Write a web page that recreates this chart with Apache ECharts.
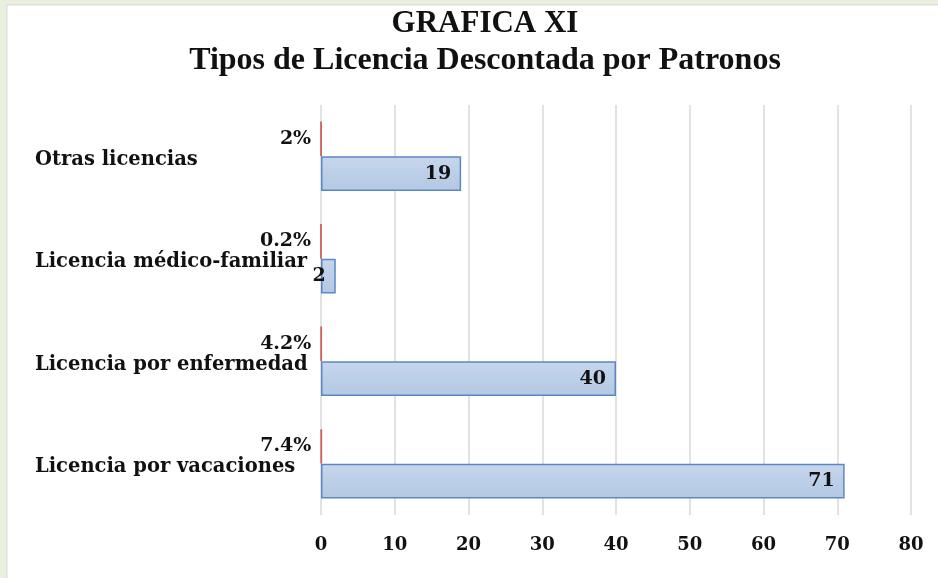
<!DOCTYPE html>
<html>
<head>
<meta charset="utf-8">
<script src="https://cdn.jsdelivr.net/npm/echarts@6/dist/echarts.min.js"></script>
<style>
    html, body {
        margin: 0;
        padding: 0;
        background: #ffffff;
    }

    #chart {
        width: 938px;
        height: 578px;
    }
</style>
</head>
<body>
<div id="chart"></div>
<script>
// categorias de abajo hacia arriba
const categories = ['Licencia por vacaciones', 'Licencia por enfermedad', 'Licencia médico-familiar', 'Otras licencias']
// numero de licencias
const counts = [71, 40, 2, 19]
// porcentaje (como fraccion), casi invisible en la escala
const shares = [0.074, 0.042, 0.002, 0.02]
// marcas del eje x
const xTicks = { min: 0, max: 80, interval: 10 }

const serif = '"DejaVu Serif", "Liberation Serif", serif'

const myChart = echarts.init(document.getElementById('chart'))
myChart.setOption({
    animation: false,
    backgroundColor: '#ffffff',
    // marco verde de la pagina
    graphic: [
        { type: 'rect', shape: { x: 0, y: 0, width: 938, height: 4 }, style: { fill: '#e9f0dd' }, silent: true },
        { type: 'rect', shape: { x: 0, y: 0, width: 6, height: 578 }, style: { fill: '#e9f0dd' }, silent: true },
        { type: 'rect', shape: { x: 6, y: 4, width: 932, height: 1.5 }, style: { fill: '#dedede' }, silent: true },
        { type: 'rect', shape: { x: 6, y: 4, width: 1.5, height: 574 }, style: { fill: '#dedede' }, silent: true }
    ],
    title: [
        {
            text: 'GRAFICA XI',
            left: 480,
            top: 3,
            textAlign: 'center',
            textStyle: { fontFamily: '"Liberation Serif", serif', fontWeight: 'bold', fontSize: 31, color: '#111' }
        },
        {
            text: 'Tipos de Licencia Descontada por Patronos',
            left: 480,
            top: 40,
            textAlign: 'center',
            textStyle: { fontFamily: '"Liberation Serif", serif', fontWeight: 'bold', fontSize: 32, color: '#111' }
        }
    ],
    grid: {
        left: 321,
        right: 27,
        top: 105,
        bottom: 63,
        containLabel: false
    },
    xAxis: {
        type: 'value',
        min: xTicks.min,
        max: xTicks.max,
        interval: xTicks.interval,
        axisLine: { show: false },
        axisTick: { show: false },
        splitLine: { lineStyle: { color: '#d9d9d9', width: 1.5 } },
        axisLabel: {
            margin: 21,
            fontFamily: serif,
            fontWeight: 'bold',
            fontSize: 18,
            color: '#111'
        }
    },
    yAxis: {
        type: 'category',
        data: categories,
        axisLine: { show: false },
        axisTick: { show: false },
        axisLabel: {
            align: 'left',
            margin: 286,
            formatter: v => '{c|' + v + '}',
            rich: {
                c: {
                    padding: [7, 0, 0, 0],
                    fontFamily: serif,
                    fontWeight: 'bold',
                    fontSize: 19.5,
                    color: '#111'
                }
            }
        }
    },
    series: [
        {
            name: 'Porcentaje',
            type: 'bar',
            data: shares,
            barGap: '0%',
            barCategoryGap: '32%',
            itemStyle: {
                color: '#c0504d',
                borderColor: '#d0605d',
                borderWidth: 1.8
            },
            label: {
                show: true,
                position: 'left',
                distance: 9,
                fontFamily: serif,
                fontWeight: 'bold',
                fontSize: 19,
                color: '#111',
                formatter: p => +(p.value * 100).toFixed(1) + '%'
            }
        },
        {
            name: 'Cantidad',
            type: 'bar',
            data: counts,
            barGap: '0%',
            barCategoryGap: '32%',
            itemStyle: {
                color: new echarts.graphic.LinearGradient(0, 0, 0, 1, [
                    { offset: 0, color: '#c6d6ec' },
                    { offset: 1, color: '#b3c8e4' }
                ]),
                borderColor: '#5b88c4',
                borderWidth: 1.5
            },
            label: {
                show: true,
                position: 'insideRight',
                distance: 10,
                fontFamily: serif,
                fontWeight: 'bold',
                fontSize: 19,
                color: '#111'
            }
        }
    ]
})
</script>
</body>
</html>
